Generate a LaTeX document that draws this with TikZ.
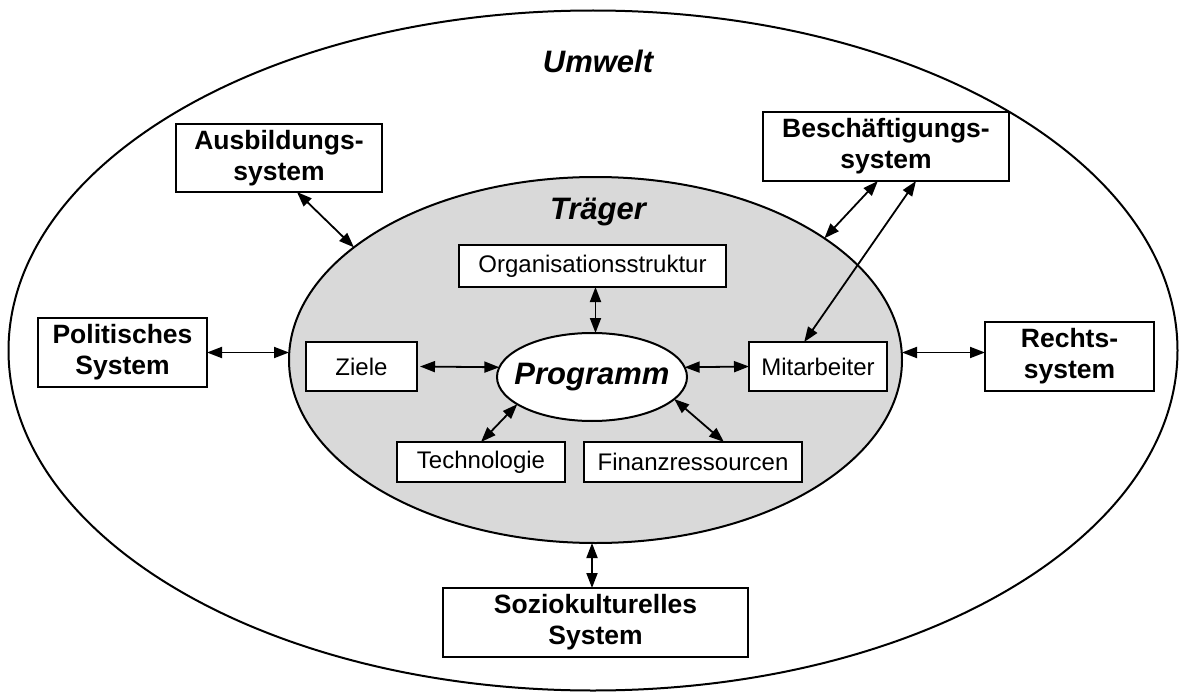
\documentclass[tikz,border=0pt]{standalone}
\usepackage{fontspec}
\setmainfont{Liberation Sans}
\usetikzlibrary{arrows.meta,shapes.geometric,calc}

\begin{document}
\begin{tikzpicture}[x=1pt,y=-1pt,
  every node/.style={inner sep=0pt, outer sep=0pt},
  sysbox/.style={draw, line width=2pt, fill=white, align=center,
    font=\fontsize{26.5}{31}\selectfont\bfseries},
  partbox/.style={draw, line width=2pt, fill=white, align=center,
    font=\fontsize{24}{28}\selectfont},
  heading/.style={font=\fontsize{31}{36}\selectfont\bfseries\itshape},
  region/.style={draw, ellipse, line width=2pt},
  link/.style={{Triangle[length=15pt,width=11pt]}-{Triangle[length=15pt,width=11pt]}, line width=1.8pt},
]
\useasboundingbox (0,0) rectangle (1179,693);

% environment and carrier
\node[region, minimum width=1169pt, minimum height=680pt] (umwelt) at (593,350.5) {};
\node[region, fill=black!15, minimum width=613pt, minimum height=366pt] (traeger) at (595.5,360) {};
\node[heading, anchor=base] (umwelttitle) at (598,73) {Umwelt};
\node[heading, anchor=base] (traegertitle) at (598,219.5) {Träger};

% surrounding systems
\node[sysbox, minimum width=206pt, minimum height=68pt] (ausb) at (279,158) {Ausbildungs-\\system};
\node[sysbox, minimum width=246pt, minimum height=69pt] (besch) at (886,146.5) {Beschäftigungs-\\system};
\node[sysbox, minimum width=169pt, minimum height=69pt] (pol) at (122.5,352.5) {Politisches\\System};
\node[sysbox, minimum width=169pt, minimum height=69pt] (recht) at (1069.5,356.5) {Rechts-\\system};
\node[sysbox, minimum width=305pt, minimum height=69pt] (sozio) at (595.5,622.5) {Soziokulturelles\\System};

% parts of the carrier
\node[partbox, minimum width=267pt, minimum height=42pt] (org) at (592.5,266) {Organisationsstruktur};
\node[partbox, minimum width=111pt, minimum height=49pt] (ziele) at (361.5,366.5) {Ziele};
\node[partbox, minimum width=138pt, minimum height=49pt] (mitarb) at (818,366.5) {Mitarbeiter};
\node[partbox, minimum width=168pt, minimum height=40pt] (tech) at (481,462) {Technologie};
\node[partbox, minimum width=218pt, minimum height=40pt] (finanz) at (693,462) {Finanzressourcen};

% programme in the middle
\node[region, fill=white, minimum width=190pt, minimum height=88pt] (prog) at (592,377) {};
\node[heading] (progtitle) at (prog.center) {Programm};

% interactions
\draw[link] ($(ausb.south west)!0.587!(ausb.south east)$) -- (traeger.155.5);
\draw[link] ($(besch.south west)!0.467!(besch.south east)$) -- (traeger.28.1);
\draw[link] ($(besch.south west)!0.622!(besch.south east)$) -- ($(mitarb.north west)!0.4!(mitarb.north east)$);
\draw[link] (pol.east) -- (pol.east -| traeger.west);
\draw[link] (traeger.east |- pol.east) -- (recht.west |- pol.east);
\draw[link] (traeger.south -| prog.south) -- (sozio.north -| prog.south);
\draw[link] (org.south -| traeger.north) -- (prog.north -| traeger.north);
\draw[link] ([xshift=3pt]ziele.east) -- (prog.174);
\draw[link] (prog.6) -- (mitarb.west);
\draw[link] (prog.200) -- (tech.north);
\draw[link] (prog.345) -- ($(finanz.north west)!0.642!(finanz.north east)$);
\end{tikzpicture}
\end{document}
